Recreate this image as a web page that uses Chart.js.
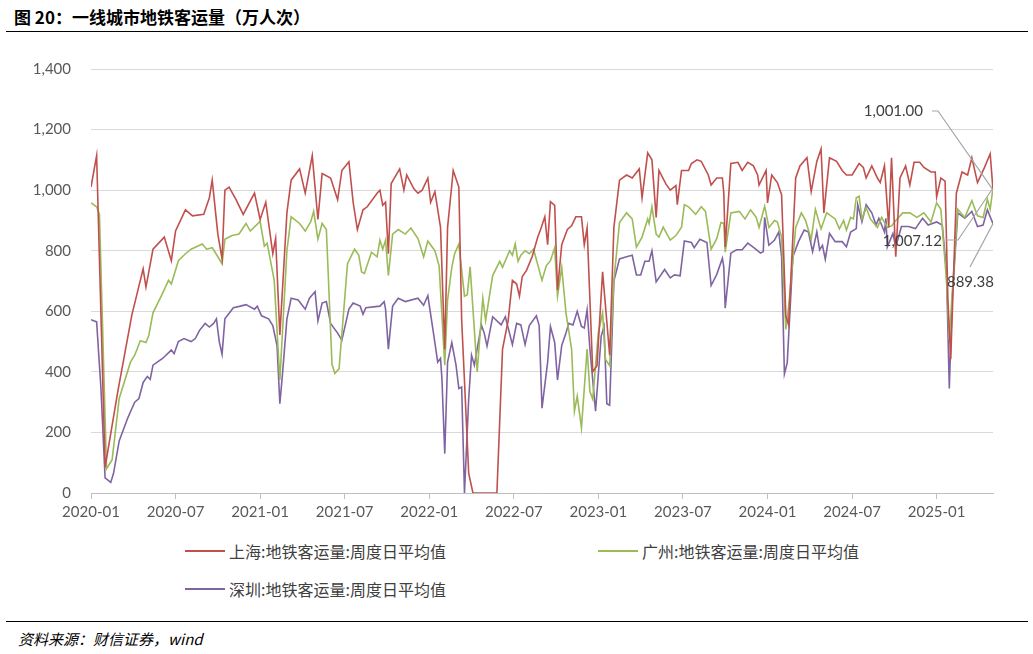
<!DOCTYPE html>
<html>
<head>
<meta charset="utf-8">
<script src="https://cdn.jsdelivr.net/npm/chart.js@4"></script>
<style>
  body { margin: 0; width: 1033px; height: 654px; background: #fff; position: relative; overflow: hidden; font-family: Lato, "Noto Sans CJK SC", sans-serif; }
  #title { position: absolute; left: 14px; top: 4px; font: bold 17px "Noto Sans CJK SC", sans-serif; color: #000; }
  .rule { position: absolute; left: 6px; width: 1022px; border-top: 1.5px solid #000; }
  #wrap { position: absolute; left: 0; top: 40px; width: 1033px; height: 483px; }
  .leg { position: absolute; font: 16px "Noto Sans CJK SC", sans-serif; color: #404040; display: flex; align-items: center; }
  .leg i { display: inline-block; width: 40px; height: 0; border-top: 2px solid; margin-right: 4px; }
  #src { position: absolute; left: 18px; top: 628px; font: italic 15px "Noto Sans CJK SC", sans-serif; color: #000; }
</style>
</head>
<body>
<div id="title">图 20：一线城市地铁客运量（万人次）</div>
<div class="rule" style="top:31px"></div>
<div id="wrap"><canvas id="chart"></canvas></div>
<div class="leg" style="left:185px;top:539px"><i style="border-color:#c0504d"></i>上海:地铁客运量:周度日平均值</div>
<div class="leg" style="left:598px;top:539px"><i style="border-color:#9bbb59"></i>广州:地铁客运量:周度日平均值</div>
<div class="leg" style="left:185px;top:577px"><i style="border-color:#8064a2"></i>深圳:地铁客运量:周度日平均值</div>
<div class="rule" style="top:621px"></div>
<div id="src">资料来源：财信证券，wind</div>
<script>
// x = months since 2020-01
const xTicks = [0, 6, 12, 18, 24, 30, 36, 42, 48, 54, 60];
const yTicks = [0, 200, 400, 600, 800, 1000, 1200, 1400];

// 上海
const shT = [0,0.4,1,1.9,2.9,3.7,3.9,4.4,5.2,5.7,6,6.7,7.2,8,8.4,8.6,9,9.3,9.5,9.8,10.3,10.8,11.6,12,12.4,12.9,13.1,13.4,13.9,14.2,14.8,15.2,15.7,16.1,16.4,17,17.5,17.8,18.3,18.6,18.9,19.3,19.6,20.3,20.5,20.7,20.9,21.1,21.3,21.9,22.2,22.4,22.9,23.2,23.5,23.9,24.1,24.4,24.8,25.1,25.3,25.6,25.7,26.1,26.3,26.8,27.1,28.8,29.2,29.6,29.9,30.2,30.4,30.6,30.9,31.3,31.7,31.9,32.2,32.4,32.6,32.9,33.1,33.4,33.8,34.1,34.4,34.8,35,35.2,35.6,35.9,36.3,36.8,37.1,37.5,38,38.4,38.9,39.1,39.5,39.8,40.1,40.3,40.8,41.1,41.5,41.6,41.9,42.4,42.6,43,43.3,43.8,44,44.4,44.8,44.9,45,45.4,45.9,46.2,46.6,47,47.3,47.4,47.9,48,48.3,48.7,49,49.3,49.5,50,50.3,50.8,51.1,51.5,51.8,52,52.4,52.9,53.3,53.6,54,54.5,54.8,55,55.4,55.8,56,56.3,56.6,56.8,57.1,57.4,57.8,58.1,58.4,58.8,59.1,59.6,59.9,60,60.3,60.6,60.8,61,61.4,61.8,62.2,62.5,62.9,63.4,63.8,64];
const shV = [1010,1114,85,335,588,740,680,805,845,767,865,935,915,920,975,1033,855,773,1000,1010,968,920,990,903,960,790,840,522,925,1033,1070,990,1114,903,1055,1040,968,1065,1094,960,870,935,945,990,1000,950,960,790,1022,1070,1000,1050,1005,990,1000,1040,960,995,877,475,877,1017,1065,1010,572,65,0,0,475,570,702,690,650,715,735,780,845,870,912,820,962,950,670,820,870,882,912,912,820,875,400,420,730,455,877,1033,1050,1040,1070,975,1123,1100,910,1065,1020,1000,1015,952,1065,1065,1088,1100,1095,1050,1017,1040,1040,990,812,1088,1092,1065,1092,1080,1050,1017,1065,958,1050,1025,985,585,555,1040,1080,1107,995,1095,1136,925,1107,1095,1065,1050,1050,1088,1075,1040,1080,1040,1025,1080,877,1107,780,1040,1080,1017,1092,1092,1075,1060,1060,978,1040,1030,637,442,990,1060,1050,1107,1025,1075,1120,1001];

// 广州
const gzT = [0,0.4,0.6,1.1,1.5,2,2.8,3.1,3.5,3.9,4.1,4.4,5,5.5,5.7,6.2,6.7,7.1,7.9,8.2,8.6,9,9.3,9.5,10,10.5,11,11.3,12,12.3,12.5,13,13.4,13.9,14.2,14.8,15.2,15.6,15.8,16.1,16.4,16.7,17.1,17.3,17.6,18.2,18.7,19,19.2,19.4,19.9,20.3,20.5,20.7,20.9,21.1,21.4,21.8,22.3,22.7,23.2,23.6,23.9,24.4,24.7,25.1,25.3,25.6,25.8,26.1,26.5,26.7,26.9,27.4,27.8,28,28.5,29,29.2,29.7,29.9,30.1,30.3,30.5,30.8,31.1,31.4,32,32.3,32.6,32.9,33.1,33.4,33.7,34.1,34.3,34.5,34.8,35.2,35.4,35.6,36,36.3,36.5,36.8,37.1,37.5,38,38.4,38.7,39.1,39.5,39.6,39.8,40.1,40.3,40.6,41.1,41.5,41.9,42.1,42.4,42.9,43.3,43.6,44,44.4,44.7,44.9,45,45.4,46,46.4,46.8,47.2,47.4,47.8,48.1,48.5,48.7,49,49.3,49.5,50,50.4,50.7,51.1,51.4,51.8,52.2,52.8,53.1,53.4,53.6,53.9,54.1,54.3,54.5,54.7,55,55.3,55.8,56.1,56.5,56.8,57.1,57.6,58.1,58.6,59.1,59.6,60,60.3,60.7,60.9,61.1,61.5,62,62.5,62.9,63.3,63.6,63.8,64];
const gzV = [958,945,920,80,110,312,432,455,503,497,520,595,652,702,690,767,790,805,822,805,810,780,757,838,850,855,890,865,897,815,825,702,373,800,912,890,865,897,930,838,890,870,425,395,410,757,805,785,730,725,795,780,835,805,835,718,855,870,855,875,840,780,832,800,750,422,637,745,790,822,650,655,747,400,643,570,718,765,745,800,785,822,765,785,800,790,805,702,750,767,810,650,745,595,475,270,320,215,475,335,310,530,595,442,420,702,893,925,905,812,845,905,890,945,855,845,878,835,850,878,952,945,920,945,930,805,840,893,890,795,925,930,905,935,910,877,947,877,900,895,845,540,615,877,925,900,838,937,872,925,905,872,900,868,910,905,975,980,905,942,905,877,910,877,882,900,925,925,910,925,895,958,937,702,507,655,937,910,965,915,910,970,937,1007.12];

// 深圳
const szT = [0,0.4,0.7,1,1.4,1.6,2,2.6,3.1,3.4,3.7,4,4.2,4.4,5.1,5.7,5.9,6.2,6.6,7.1,7.4,7.7,8.1,8.4,8.7,8.9,9.1,9.3,9.5,10.1,10.6,11,11.6,11.8,12.1,12.6,12.9,13.2,13.4,13.6,13.9,14.2,14.7,15.2,15.5,15.9,16.1,16.4,16.7,17,17.5,17.8,18.3,18.6,19.1,19.3,19.5,20.5,20.8,20.9,21.1,21.4,21.8,22.3,23.2,23.6,23.9,24.3,24.6,24.8,24.9,25.1,25.3,25.6,25.9,26.1,26.3,26.5,26.8,27,27.2,27.7,27.9,28.1,28.5,29.1,29.4,29.9,30.2,30.5,30.8,31.1,31.6,31.8,32,32.4,32.6,32.9,33.1,33.4,33.7,33.9,34.2,34.5,34.8,35,35.2,35.4,35.8,36.2,36.4,36.6,36.8,37.1,37.5,38,38.4,38.7,39,39.3,39.6,39.8,40.1,40.7,41.1,41.4,41.8,42.1,42.6,42.8,43.2,43.7,44,44.4,44.8,44.9,45,45.4,45.8,46.2,46.6,47.1,47.5,47.7,47.8,48.1,48.5,48.8,49,49.2,49.4,49.8,50.2,50.6,50.9,51.2,51.5,51.7,51.9,52.1,52.4,52.8,53.3,53.6,53.9,54.3,54.4,54.7,55,55.4,55.7,55.9,56.3,56.4,56.5,56.9,57.1,57.5,58,58.5,59,59.4,60,60.4,60.7,60.9,61.1,61.5,62,62.5,62.9,63.3,63.6,64];
const szV = [572,565,350,50,35,65,172,247,300,312,365,385,375,422,445,472,460,500,510,500,510,537,560,548,560,575,500,458,575,612,617,622,607,617,585,575,553,487,295,400,575,643,637,607,643,665,568,627,632,560,528,505,607,627,617,590,612,617,632,607,475,617,643,632,643,620,652,528,432,445,377,130,432,497,422,345,350,0,312,455,422,555,528,485,582,555,582,490,560,555,490,553,585,553,280,432,550,497,373,487,528,560,555,600,550,545,605,475,270,518,550,295,290,700,773,780,785,720,720,765,765,800,697,738,710,720,717,832,827,810,838,827,685,722,775,745,610,792,803,803,825,808,792,797,910,818,835,862,780,393,430,780,830,868,862,797,862,803,818,772,857,830,830,813,862,873,952,895,952,925,885,907,862,907,812,857,812,880,880,873,907,885,895,885,733,345,637,925,907,930,880,885,935,889.38];

const toXY = (t, v) => t.map((x, i) => ({ x: x, y: v[i] }));

const labelPlugin = {
  id: 'endLabels',
  afterDatasetsDraw(chart) {
    const ctx = chart.ctx;
    const xs = chart.scales.x, ys = chart.scales.y;
    const ex = xs.getPixelForValue(64);
    const items = [
      { text: '1,001.00', v: shV[shV.length - 1], tx: 923, ty: 71, lx0: 932, ly0: 71 },
      { text: '1,007.12', v: gzV[gzV.length - 1], tx: 942, ty: 201, lx0: 946, ly0: 200 },
      { text: '889.38', v: szV[szV.length - 1], tx: 994, ty: 242, lx0: 970, ly0: 227 }
    ];
    ctx.save();
    ctx.strokeStyle = '#a6a6a6';
    ctx.lineWidth = 1.2;
    ctx.font = '15px Lato';
    ctx.fillStyle = '#404040';
    ctx.textBaseline = 'middle';
    items.forEach((it, k) => {
      const py = ys.getPixelForValue(it.v);
      ctx.beginPath();
      if (k === 0) { ctx.moveTo(it.lx0, it.ly0); ctx.lineTo(938, it.ly0); ctx.lineTo(ex, py); }
      else if (k === 1) { ctx.moveTo(it.lx0, it.ly0); ctx.lineTo(958, it.ly0); ctx.lineTo(ex, py); }
      else { ctx.moveTo(it.lx0, it.ly0); ctx.lineTo(ex, py); }
      ctx.stroke();
      ctx.textAlign = 'right';
      ctx.fillText(it.text, it.tx, it.ty);
    });
    ctx.restore();
  }
};

function series(label, t, v, color) {
  return { label: label, data: toXY(t, v), borderColor: color, backgroundColor: color,
           borderWidth: 1.6, pointRadius: 0, tension: 0 };
}

new Chart(document.getElementById('chart'), {
  type: 'line',
  data: {
    datasets: [
      series('上海:地铁客运量:周度日平均值', shT, shV, '#c0504d'),
      series('广州:地铁客运量:周度日平均值', gzT, gzV, '#9bbb59'),
      series('深圳:地铁客运量:周度日平均值', szT, szV, '#8064a2')
    ]
  },
  options: {
    responsive: true,
    maintainAspectRatio: false,
    animation: false,
    layout: { padding: { left: 0, right: 40, top: 15, bottom: 0 } },
    plugins: { legend: { display: false }, tooltip: { enabled: false } },
    scales: {
      x: {
        type: 'linear', min: 0, max: 64,
        afterBuildTicks: s => { s.ticks = xTicks.map(v => ({ value: v })); },
        afterFit: s => { s.height = 30; },
        ticks: {
          color: '#595959', font: { size: 15, family: 'Lato' }, maxRotation: 0, padding: 4,
          callback: v => (2020 + Math.floor(v / 12)) + '-' + String(v % 12 + 1).padStart(2, '0')
        },
        grid: { drawOnChartArea: false, color: '#bfbfbf', tickLength: 6 },
        border: { color: '#bfbfbf' }
      },
      y: {
        min: 0, max: 1400,
        afterBuildTicks: s => { s.ticks = yTicks.map(v => ({ value: v })); },
        afterFit: s => { s.width = 91; },
        ticks: { color: '#595959', font: { size: 15, family: 'Lato' }, padding: 20,
                 callback: v => v.toLocaleString('en-US') },
        grid: { color: '#d9d9d9', drawTicks: false },
        border: { display: false }
      }
    }
  },
  plugins: [labelPlugin]
});
</script>
</body>
</html>
